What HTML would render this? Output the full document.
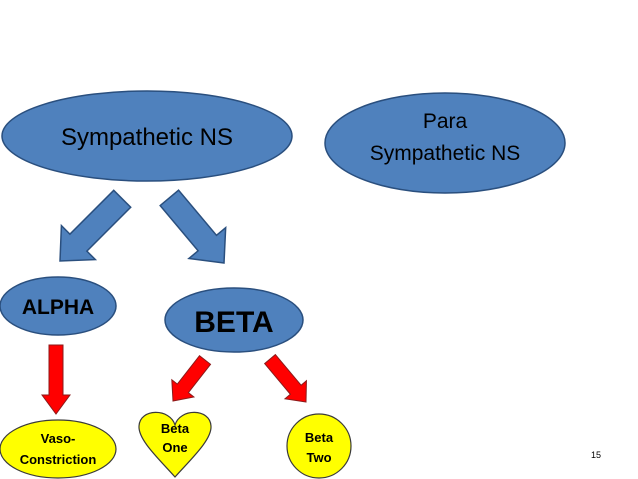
<!DOCTYPE html>
<html><head><style>body{margin:0;background:#fff}svg{display:block}</style></head><body>
<svg width="638" height="479" viewBox="0 0 638 479" font-family="Liberation Sans, sans-serif">
<defs><style>.b{fill:#4f81bd;stroke:#2a4f7e;stroke-width:1.5}.r{fill:#ff0000;stroke:#8b1a1a;stroke-width:1}.y{fill:#ffff00;stroke:#3a3a3a;stroke-width:1.2}text{text-anchor:middle;fill:#000}.bd{font-weight:bold}</style></defs>
<ellipse class="b" cx="147" cy="136" rx="145" ry="45"/>
<text x="147" y="145" font-size="24">Sympathetic NS</text>
<ellipse class="b" cx="445" cy="143" rx="120" ry="50"/>
<text x="445" y="128" font-size="21">Para</text>
<text x="445" y="160" font-size="21">Sympathetic NS</text>
<g transform="translate(60,261) rotate(45)"><polygon class="b" points="0,0 -24,-26 -12,-26 -12,-88 12,-88 12,-26 24,-26"/></g>
<g transform="translate(224,263) rotate(-40)"><polygon class="b" points="0,0 -24,-26 -12,-26 -12,-85 12,-85 12,-26 24,-26"/></g>
<ellipse class="b" cx="58" cy="306" rx="58" ry="29"/>
<text class="bd" x="58" y="314" font-size="21">ALPHA</text>
<ellipse class="b" cx="234" cy="320" rx="69" ry="32"/>
<text class="bd" x="234" y="332" font-size="30">BETA</text>
<polygon class="r" points="49,345 63,345 63,395 70,395 56,414 42,395 49,395"/>
<g transform="translate(173,401) rotate(38)"><polygon class="r" points="0,0 -14,-16 -7,-16 -7,-52 7,-52 7,-16 14,-16"/></g>
<g transform="translate(306,402) rotate(-40)"><polygon class="r" points="0,0 -14,-16 -7,-16 -7,-56 7,-56 7,-16 14,-16"/></g>
<ellipse class="y" cx="58" cy="449" rx="58" ry="29"/>
<text class="bd" x="58" y="443" font-size="13">Vaso-</text>
<text class="bd" x="58" y="464" font-size="13">Constriction</text>
<path class="y" d="M175,425 C170,408 140,408 139,426 C138,440 160,460 175,477 C190,460 212,440 211,426 C210,408 180,408 175,425 Z"/>
<text class="bd" x="175" y="433" font-size="13">Beta</text>
<text class="bd" x="175" y="452" font-size="13">One</text>
<circle class="y" cx="319" cy="446" r="32"/>
<text class="bd" x="319" y="442" font-size="13">Beta</text>
<text class="bd" x="319" y="462" font-size="13">Two</text>
<text x="596" y="458" font-size="9" fill="#888">15</text>
</svg>
</body></html>
